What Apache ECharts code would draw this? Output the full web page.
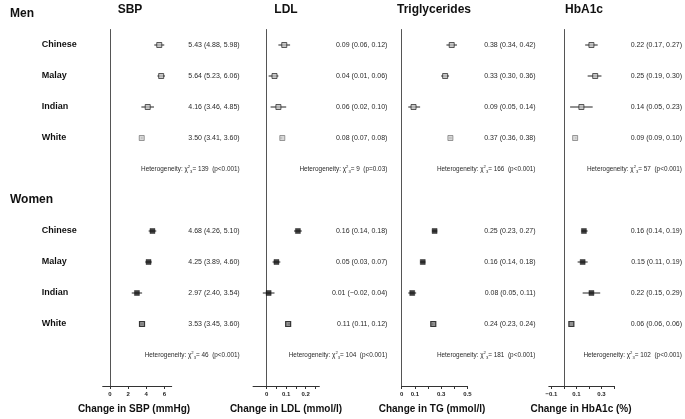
<!DOCTYPE html>
<html>
<head>
<meta charset="utf-8">
<script src="https://cdn.jsdelivr.net/npm/echarts@6/dist/echarts.min.js"></script>
<style>html,body{margin:0;padding:0;background:#fff}#c{width:685px;height:419px}</style>
</head>
<body>
<div id="c"></div>
<script>
// ---------- data ----------
const ethnicities = ['Chinese', 'Malay', 'Indian', 'White'];
const panelNames = ['SBP', 'LDL', 'Triglycerides', 'HbA1c'];
const axisTitles = ['Change in SBP (mmHg)', 'Change in LDL (mmol/l)', 'Change in TG (mmol/l)', 'Change in HbA1c (%)'];
const sexLabels = ['Men', 'Women'];

// [estimate, lower, upper] for Chinese, Malay, Indian, White
const sbpMen   = [[5.43, 4.88, 5.98], [5.64, 5.23, 6.06], [4.16, 3.46, 4.85], [3.50, 3.41, 3.60]];
const sbpWomen = [[4.68, 4.26, 5.10], [4.25, 3.89, 4.60], [2.97, 2.40, 3.54], [3.53, 3.45, 3.60]];
const ldlMen   = [[0.09, 0.06, 0.12], [0.04, 0.01, 0.06], [0.06, 0.02, 0.10], [0.08, 0.07, 0.08]];
const ldlWomen = [[0.16, 0.14, 0.18], [0.05, 0.03, 0.07], [0.01, -0.02, 0.04], [0.11, 0.11, 0.12]];
const tgMen    = [[0.38, 0.34, 0.42], [0.33, 0.30, 0.36], [0.09, 0.05, 0.14], [0.37, 0.36, 0.38]];
const tgWomen  = [[0.25, 0.23, 0.27], [0.16, 0.14, 0.18], [0.08, 0.05, 0.11], [0.24, 0.23, 0.24]];
const hbMen    = [[0.22, 0.17, 0.27], [0.25, 0.19, 0.30], [0.14, 0.05, 0.23], [0.09, 0.09, 0.10]];
const hbWomen  = [[0.16, 0.14, 0.19], [0.15, 0.11, 0.19], [0.22, 0.15, 0.29], [0.06, 0.06, 0.06]];

// heterogeneity chi-square (3 df) and p text: [men, women]
const sbpHet = [139, 46],  sbpP = ['p<0.001', 'p<0.001'];
const ldlHet = [9, 104],   ldlP = ['p=0.03', 'p<0.001'];
const tgHet  = [166, 181], tgP  = ['p<0.001', 'p<0.001'];
const hbHet  = [57, 102],  hbP  = ['p<0.001', 'p<0.001'];

// tick values / tick labels
const sbpTicks = [0, 2, 4, 6],                       sbpTickLabels = [0, 2, 4, 6];
const ldlTicks = [0, 0.05, 0.1, 0.15, 0.2, 0.25],     ldlTickLabels = [0, 0.1, 0.2];
const tgTicks  = [0, 0.1, 0.2, 0.3, 0.4, 0.5],        tgTickLabels  = [0, 0.1, 0.3, 0.5];
const hbTicks  = [-0.1, 0, 0.1, 0.2, 0.3, 0.4],       hbTickLabels  = [-0.1, 0.1, 0.3];

// ---------- layout (rows on a value axis) ----------
const menRows = [1, 2, 3, 4], womenRows = [7, 8, 9, 10], hetRows = [5, 11];

const panels = [
  {men: sbpMen, women: sbpWomen, het: sbpHet, p: sbpP, ticks: sbpTicks, labels: sbpTickLabels, min: -0.8, max: 6.8, left: 102.7, width: 69},
  {men: ldlMen, women: ldlWomen, het: ldlHet, p: ldlP, ticks: ldlTicks, labels: ldlTickLabels, min: -0.07, max: 0.27, left: 253.05, width: 66.3},
  {men: tgMen, women: tgWomen, het: tgHet, p: tgP, ticks: tgTicks, labels: tgTickLabels, min: 0, max: 0.5, left: 401.7, width: 65.8},
  {men: hbMen, women: hbWomen, het: hbHet, p: hbP, ticks: hbTicks, labels: hbTickLabels, min: -0.12, max: 0.4, left: 548.8, width: 67.1}
];

const FONT = "'Liberation Sans', Arial, Helvetica, sans-serif";
const NARROW = "'Liberation Sans Narrow', 'Liberation Sans', Arial, sans-serif";

function fmt(v) { return (v < 0 ? '\u2212' : '') + Math.abs(v).toFixed(2); }
function fmtTick(v) { return (v < 0 ? '\u2212' : '') + String(Math.abs(v)); }

const grids = [], xAxes = [], yAxes = [], series = [];

panels.forEach((pn, i) => {
  grids.push({left: pn.left, width: pn.width, top: 29.5, bottom: 33, containLabel: false});
  xAxes.push({
    type: 'value', gridIndex: i, min: pn.min, max: pn.max, position: 'bottom',
    splitLine: {show: false},
    axisLine: {show: true, onZero: false, lineStyle: {color: '#333', width: 1}},
    axisTick: {show: true, length: 3, customValues: pn.ticks, lineStyle: {color: '#333', width: 1}},
    axisLabel: {show: true, customValues: pn.labels, formatter: fmtTick, fontSize: 6, fontWeight: 'bold', color: '#222', fontFamily: FONT, margin: 5}
  });
  // left axis: zero line (+ ethnicity labels on first panel)
  yAxes.push({
    type: 'value', gridIndex: i, inverse: true, min: 0.5, max: 12, position: 'left',
    splitLine: {show: false},
    axisLine: {show: true, onZero: true, lineStyle: {color: '#555', width: 1}},
    axisTick: {show: false},
    axisLabel: i === 0 ? {
      show: true, customValues: menRows.concat(womenRows),
      formatter: v => ethnicities[(menRows.indexOf(v) >= 0 ? menRows.indexOf(v) : womenRows.indexOf(v))],
      align: 'left', margin: 61, fontSize: 9, fontWeight: 'bold', color: '#111', fontFamily: FONT
    } : {show: false}
  });
  // right axis: estimate text and heterogeneity
  yAxes.push({
    type: 'value', gridIndex: i, inverse: true, min: 0.5, max: 12, position: 'right',
    splitLine: {show: false},
    axisLine: {show: false, onZero: false},
    axisTick: {show: false},
    axisLabel: {
      show: true, customValues: menRows.concat(womenRows, hetRows),
      formatter: v => {
        let k = menRows.indexOf(v);
        if (k >= 0) { const d = pn.men[k]; return fmt(d[0]) + ' (' + fmt(d[1]) + ', ' + fmt(d[2]) + ')'; }
        k = womenRows.indexOf(v);
        if (k >= 0) { const d = pn.women[k]; return fmt(d[0]) + ' (' + fmt(d[1]) + ', ' + fmt(d[2]) + ')'; }
        k = hetRows.indexOf(v);
        return '{h|Heterogeneity: \u03c7}{s|2}{b|3}{h|= ' + pn.het[k] + '  (' + pn.p[k] + ')}';
      },
      align: 'right', margin: 68, fontSize: 7, color: '#2a2a2a', fontFamily: NARROW,
      rich: {
        h: {fontSize: 6.4, fontFamily: NARROW, color: '#2a2a2a', lineHeight: 9},
        s: {fontSize: 4.2, fontFamily: NARROW, color: '#2a2a2a', verticalAlign: 'top', lineHeight: 9},
        b: {fontSize: 4.2, fontFamily: NARROW, color: '#2a2a2a', verticalAlign: 'bottom', lineHeight: 9}
      }
    }
  });

  const ciData = [];
  pn.men.forEach((d, k) => ciData.push([d[1], d[2], menRows[k]]));
  pn.women.forEach((d, k) => ciData.push([d[1], d[2], womenRows[k]]));
  series.push({
    type: 'custom', xAxisIndex: i, yAxisIndex: 2 * i, clip: false, z: 2,
    encode: {x: [0, 1], y: 2},
    data: ciData,
    renderItem: (params, api) => {
      const a = api.coord([api.value(0), api.value(2)]);
      const b = api.coord([api.value(1), api.value(2)]);
      return {type: 'line', shape: {x1: a[0], y1: a[1], x2: b[0], y2: b[1]}, style: {stroke: '#222', lineWidth: 1}};
    }
  });

  const ptData = [];
  pn.men.forEach((d, k) => ptData.push({
    value: [d[0], menRows[k]],
    itemStyle: k === 3 ? {color: '#cfcfcf', borderColor: '#666', borderWidth: 0.8} : {color: '#bdbdbd', borderColor: '#222', borderWidth: 0.9}
  }));
  pn.women.forEach((d, k) => ptData.push({
    value: [d[0], womenRows[k]],
    itemStyle: k === 3 ? {color: '#777', borderColor: '#111', borderWidth: 1.2} : {color: '#111', borderColor: '#111', borderWidth: 0.5}
  }));
  series.push({
    type: 'scatter', xAxisIndex: i, yAxisIndex: 2 * i, symbol: 'rect', symbolSize: 5, z: 3,
    silent: true, data: ptData
  });
});

const headerX = [130, 286, 434, 584];
const titleX = [134, 286, 432, 581];
const graphics = [];
panelNames.forEach((t, i) => graphics.push({type: 'text', x: headerX[i], y: 10, style: {text: t, fontSize: 12, fontWeight: 'bold', fontFamily: FONT, fill: '#111', textAlign: 'center', textVerticalAlign: 'middle'}}));
axisTitles.forEach((t, i) => graphics.push({type: 'text', x: titleX[i], y: 409, style: {text: t, fontSize: 10, fontWeight: 'bold', fontFamily: FONT, fill: '#111', textAlign: 'center', textVerticalAlign: 'middle'}}));
graphics.push({type: 'text', x: 10, y: 14, style: {text: sexLabels[0], fontSize: 12, fontWeight: 'bold', fontFamily: FONT, fill: '#111', textAlign: 'left', textVerticalAlign: 'middle'}});
graphics.push({type: 'text', x: 10, y: 200, style: {text: sexLabels[1], fontSize: 12, fontWeight: 'bold', fontFamily: FONT, fill: '#111', textAlign: 'left', textVerticalAlign: 'middle'}});

const chart = echarts.init(document.getElementById('c'), null, {renderer: 'canvas'});
chart.setOption({
  animation: false,
  backgroundColor: '#fff',
  grid: grids, xAxis: xAxes, yAxis: yAxes, series: series,
  graphic: graphics
});
</script>
</body>
</html>
